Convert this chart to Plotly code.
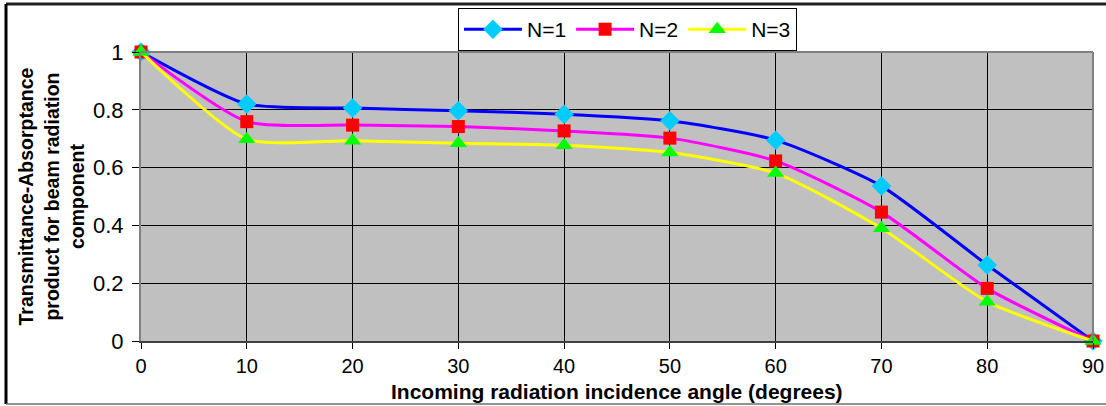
import plotly.graph_objects as go

# Incidence angle (degrees)
angles = [0, 10, 20, 30, 40, 50, 60, 70, 80, 90]

# Transmittance-absorptance product for N covers
tau_alpha_n1 = [1.0, 0.820, 0.806, 0.797, 0.785, 0.762, 0.695, 0.536, 0.263, 0.0]
tau_alpha_n2 = [1.0, 0.759, 0.747, 0.742, 0.727, 0.702, 0.623, 0.446, 0.182, 0.0]
tau_alpha_n3 = [1.0, 0.698, 0.693, 0.684, 0.677, 0.652, 0.581, 0.390, 0.136, 0.0]

series_names = ["N=1", "N=2", "N=3"]
x_ticks = [0, 10, 20, 30, 40, 50, 60, 70, 80, 90]
y_ticks = [0, 0.2, 0.4, 0.6, 0.8, 1]

FONT = "Liberation Sans, Arial, sans-serif"

styles = [
    dict(line="#0000FF", marker="#00CCFF", symbol="diamond", size=15),
    dict(line="#FF00FF", marker="#FF0000", symbol="square", size=13),
    dict(line="#FFFF00", marker="#00FF00", symbol="triangle-up", size=15),
]

fig = go.Figure()
for name, ys, st in zip(series_names, [tau_alpha_n1, tau_alpha_n2, tau_alpha_n3], styles):
    fig.add_trace(go.Scatter(
        x=angles, y=ys, name=name, mode="lines+markers",
        line=dict(color=st["line"], width=3, shape="spline", smoothing=0.6),
        marker=dict(color=st["marker"], symbol=st["symbol"], size=st["size"], line=dict(width=0)),
        cliponaxis=False,
    ))

fig.update_layout(
    width=1106, height=406,
    margin=dict(l=141, r=13, t=52, b=65, autoexpand=False),
    paper_bgcolor="white",
    plot_bgcolor="#C0C0C0",
    font=dict(family=FONT, color="black"),
    showlegend=True,
    legend=dict(
        orientation="h", x=0.511, xanchor="center", y=1.152, yanchor="top",
        bordercolor="black", borderwidth=1, bgcolor="white",
        font=dict(size=21, family=FONT), itemwidth=58,
        tracegroupgap=0,
    ),
    xaxis=dict(
        range=[0, 90], tickvals=x_ticks, ticktext=[str(v) for v in x_ticks],
        showgrid=True, gridcolor="black", gridwidth=1,
        zeroline=False, showline=True, linecolor="#404040", linewidth=2, mirror=False,
        ticks="outside", ticklen=6, tickcolor="black", automargin=False,
        tickfont=dict(size=20, family=FONT), ticklabelstandoff=0,
    ),
    yaxis=dict(
        range=[0, 1], tickvals=y_ticks, ticktext=["0", "0.2", "0.4", "0.6", "0.8", "1"],
        showgrid=True, gridcolor="black", gridwidth=1,
        zeroline=False, showline=True, linecolor="#808080", linewidth=2, mirror=False,
        ticks="outside", ticklen=7, tickcolor="black", automargin=False,
        tickfont=dict(size=22, family=FONT), ticklabelstandoff=4,
    ),
    annotations=[
        dict(text="<b>Incoming radiation incidence angle (degrees)</b>",
             xref="paper", yref="paper", x=0.5, y=-0.174, xanchor="center", yanchor="middle",
             showarrow=False, font=dict(size=21, family=FONT)),
        dict(text="<b>Transmittance-Absorptance<br>product for beam radiation<br>component</b>",
             xref="paper", yref="paper", x=-0.0935, y=0.5, xanchor="center", yanchor="middle",
             textangle=-90, showarrow=False, font=dict(size=19.5, family=FONT)),
    ],
    shapes=[
        # plot area outline (top and right)
        dict(type="line", xref="paper", yref="paper", x0=0, x1=1, y0=1, y1=1,
             line=dict(color="#808080", width=2)),
        dict(type="line", xref="paper", yref="paper", x0=1, x1=1, y0=0, y1=1,
             line=dict(color="#808080", width=2)),
        # chart frame
        dict(type="line", xref="paper", yref="paper", x0=-0.1418, x1=1.02, y0=1.166, y1=1.166,
             line=dict(color="#202020", width=3)),
        dict(type="line", xref="paper", yref="paper", x0=-0.1418, x1=-0.1418, y0=-0.218, y1=1.166,
             line=dict(color="black", width=3)),
        dict(type="line", xref="paper", yref="paper", x0=-0.1418, x1=1.02, y0=-0.218, y1=-0.218,
             line=dict(color="#707070", width=1.5)),
    ],
)

fig.write_html("out.html")
